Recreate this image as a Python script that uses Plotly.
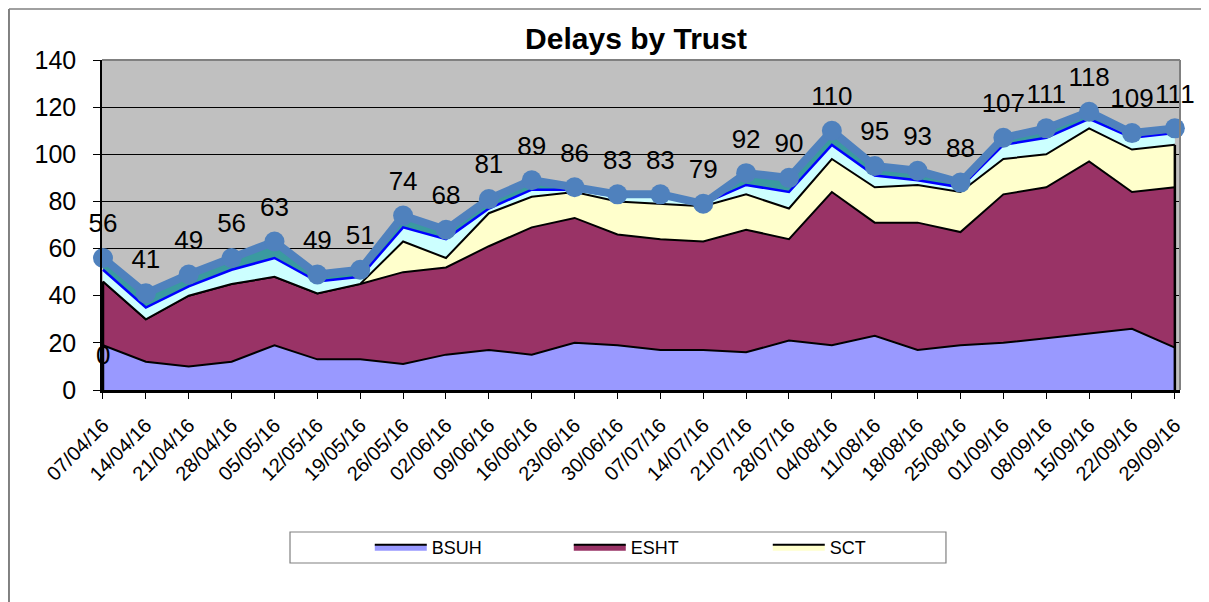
import plotly.graph_objects as go

categories = ["07/04/16", "14/04/16", "21/04/16", "28/04/16", "05/05/16", "12/05/16",
              "19/05/16", "26/05/16", "02/06/16", "09/06/16", "16/06/16", "23/06/16",
              "30/06/16", "07/07/16", "14/07/16", "21/07/16", "28/07/16", "04/08/16",
              "11/08/16", "18/08/16", "25/08/16", "01/09/16", "08/09/16", "15/09/16",
              "22/09/16", "29/09/16"]

bsuh = [19, 12, 10, 12, 19, 13, 13, 11, 15, 17, 15, 20, 19, 17, 17, 16, 21, 19, 23, 17, 19, 20, 22, 24, 26, 18]
esht = [27, 18, 30, 33, 29, 28, 32, 39, 37, 44, 54, 53, 47, 47, 46, 52, 43, 65, 48, 54, 48, 63, 64, 73, 58, 68]
sct = [0, 0, 0, 0, 0, 0, 0, 13, 4, 14, 13, 11, 14, 15, 15, 15, 13, 14, 15, 16, 17, 15, 14, 14, 18, 18]
other_a = [5, 5, 4, 6, 8, 5, 3, 6, 8, 2, 3, 1, 2, 3, 1, 4, 7, 6, 5, 2, 2, 6, 7, 4, 5, 5]
other_b = [5, 6, 5, 5, 7, 3, 3, 5, 4, 4, 4, 1, 1, 1, 0, 5, 6, 6, 4, 4, 2, 3, 4, 3, 2, 2]
total = [56, 41, 49, 56, 63, 49, 51, 74, 68, 81, 89, 86, 83, 83, 79, 92, 90, 110, 95, 93, 88, 107, 111, 118, 109, 111]

FONT = "Arial, Liberation Sans, sans-serif"

# page has an 8px body margin: figure is drawn 8px right/down of the page origin
W, H = 1201, 594

fig = go.Figure()
fig.add_trace(go.Scatter(x=categories, y=bsuh, name="BSUH", stackgroup="s", mode="lines",
                         line=dict(color="black", width=2), fillcolor="#9999FF"))
fig.add_trace(go.Scatter(x=categories, y=esht, name="ESHT", stackgroup="s", mode="lines",
                         line=dict(color="black", width=2), fillcolor="#993366"))
fig.add_trace(go.Scatter(x=categories, y=sct, name="SCT", stackgroup="s", mode="lines",
                         line=dict(color="black", width=2), fillcolor="#FFFFCC"))
fig.add_trace(go.Scatter(x=categories, y=other_a, name="Other", stackgroup="s", mode="lines",
                         line=dict(color="#0000FF", width=2.5), fillcolor="#CCFFFF",
                         showlegend=False))
fig.add_trace(go.Scatter(x=categories, y=other_b, name="Other2", stackgroup="s", mode="lines",
                         line=dict(color="#3A9AA0", width=0), fillcolor="#3A9AA0",
                         showlegend=False))

# black outline on the left/right edges of the stacked polygons
for i in (0, len(categories) - 1):
    fig.add_trace(go.Scatter(x=[categories[i], categories[i]],
                             y=[0, bsuh[i] + esht[i] + sct[i]], mode="lines",
                             line=dict(color="black", width=2.5), showlegend=False,
                             hoverinfo="skip", cliponaxis=False))

fig.add_trace(go.Scatter(x=categories, y=total, name="Total", mode="lines+markers",
                         line=dict(color="#4F81BD", width=8),
                         marker=dict(color="#4F81BD", size=20),
                         cliponaxis=False, showlegend=False))
fig.add_trace(go.Scatter(x=categories, y=total, name="Total labels", mode="markers+text",
                         marker=dict(size=29, opacity=0),
                         text=[str(v) for v in total], textposition="top center",
                         textfont=dict(family=FONT, size=26, color="black"),
                         cliponaxis=False, showlegend=False, hoverinfo="skip"))

fig.add_annotation(x=categories[0], y=bsuh[0], text="0", showarrow=False, yshift=-10,
                   font=dict(family=FONT, size=26, color="black"))

fig.update_layout(
    width=W, height=H,
    margin=dict(l=94, r=29, t=52, b=212),
    paper_bgcolor="white", plot_bgcolor="#C0C0C0",
    font=dict(family=FONT, color="black"),
    title=dict(text="<b>Delays by Trust</b>", x=628 / W, xanchor="center",
               y=1 - 30 / H, yanchor="middle", font=dict(family=FONT, size=30, color="black")),
    xaxis=dict(type="category", range=[-0.023, 25.12], showgrid=False,
               ticks="outside", ticklen=6, tickcolor="black", tickwidth=1,
               tickangle=-45, tickfont=dict(family=FONT, size=20, color="black"),
               ticklabelstandoff=7,
               showline=True, linecolor="black", linewidth=2.5),
    yaxis=dict(range=[0, 140], dtick=20, showgrid=True, gridcolor="black", gridwidth=1,
               zeroline=False, ticks="outside", ticklen=7, tickcolor="black",
               tickfont=dict(family=FONT, size=25, color="black"),
               ticklabelstandoff=12,
               showline=True, linecolor="black", linewidth=1.5),
    legend=dict(orientation="h", x=0.2484, xanchor="left", y=-0.476, yanchor="middle",
                entrywidth=132, entrywidthmode="pixels", itemwidth=52,
                traceorder="normal", bgcolor="rgba(0,0,0,0)", borderwidth=0,
                font=dict(family=FONT, size=18, color="black")),
    showlegend=True,
)

fig.add_shape(type="line", xref="paper", yref="paper", x0=0, x1=1, y0=1, y1=1,
              line=dict(color="#808080", width=2))
fig.add_shape(type="line", xref="paper", yref="paper", x0=1, x1=1, y0=0, y1=1,
              line=dict(color="#808080", width=2))
fig.add_shape(type="rect", xref="paper", yref="paper", x0=0.1744, x1=0.7829,
              y0=-0.5242, y1=-0.4303, line=dict(color="#808080", width=1.2), layer="below")
# outer chart frame
fig.add_shape(type="line", xref="paper", yref="paper", x0=-0.0863, x1=-0.0863,
              y0=-0.7, y1=1.1545, line=dict(color="#808080", width=2))
fig.add_shape(type="line", xref="paper", yref="paper", x0=-0.0863, x1=1.0232,
              y0=1.1545, y1=1.1545, line=dict(color="#808080", width=1.5))
fig.add_shape(type="line", xref="paper", yref="paper", x0=1.0232, x1=1.0232,
              y0=-0.7, y1=1.1545, line=dict(color="#808080", width=2))

fig.write_html("out.html")
